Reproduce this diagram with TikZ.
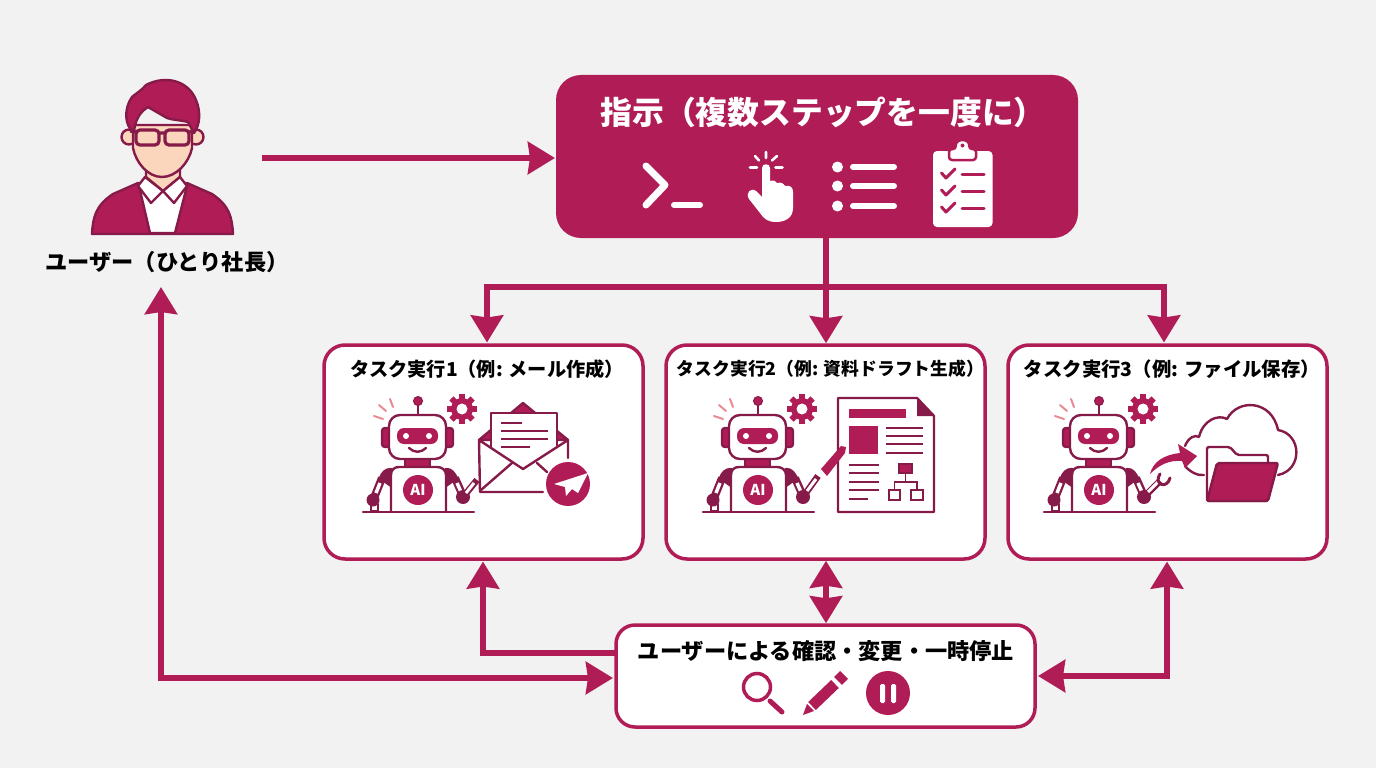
\documentclass[tikz,border=0pt]{standalone}
\usepackage{fontspec}
\setmainfont{Noto Sans CJK JP}
\usepackage{tikz}
\usetikzlibrary{arrows.meta,calc}

\definecolor{crimson}{HTML}{B01C55}
\definecolor{wine}{HTML}{861A48}
\definecolor{salmon}{HTML}{E98A94}
\definecolor{paper}{HTML}{F2F2F2}
\definecolor{skin}{HTML}{FBD5BC}

\tikzset{
    flow/.style={draw=crimson, line width=6.5pt, -{Stealth[width=32pt,length=27pt,inset=2pt]}},
    flowboth/.style={draw=crimson, line width=6.5pt, {Stealth[width=32pt,length=27pt,inset=2pt]}-{Stealth[width=32pt,length=27pt,inset=2pt]}},
    taskbox/.style={draw=crimson, line width=3.5pt, fill=white, rounded corners=21pt, minimum width=319pt, minimum height=214pt},
    ink/.style={draw=wine, line width=2.4pt, line cap=round, line join=round},
    inkfill/.style={ink, fill=crimson},
    whiteink/.style={draw=white, line width=6pt, line cap=round, line join=round},
    heading/.style={text=black, inner sep=0pt},
}

% robot with gear, drawn around the AI badge
\newcommand{\robot}[2]{
    \begin{scope}[shift={(#1,#2)}]
        % sparks
        \draw[salmon, line width=2pt, line cap=round] (-44,-74) -- (-35,-71);
        \draw[salmon, line width=2pt, line cap=round] (-39,-85) -- (-32,-79);
        \draw[salmon, line width=2pt, line cap=round] (-28,-91) -- (-25,-83);
        % gear
        \foreach \a in {0,45,...,315} {
            \fill[crimson, rotate around={\a:(44,-81)}] (41,-96) rectangle (47,-90);
        }
        \fill[crimson] (44,-81) circle (11);
        \fill[white] (44,-81) circle (5.5);
        % antenna
        \draw[ink] (0,-88) -- (0,-75);
        \fill[crimson, draw=wine, line width=1pt] (0,-89) circle (4.5);
        % ears
        \draw[inkfill, rounded corners=3pt] (-36,-62) rectangle (-27,-43);
        \draw[inkfill, rounded corners=3pt] (26,-62) rectangle (35,-43);
        % neck
        \draw[inkfill] (-13,-31) rectangle (12,-23);
        % head
        \draw[ink, fill=white, rounded corners=11pt] (-29,-75) rectangle (28,-31);
        \fill[crimson, rounded corners=7pt] (-21,-62) rectangle (20,-46);
        \fill[white] (-12,-54) circle (3);
        \fill[white] (11,-54) circle (3);
        \draw[ink] (-9,-42) .. controls (-4,-37) and (3,-37) .. (8,-42);
        % shoulders
        \draw[ink, fill=wine] (-27,-21) .. controls (-33,-21) and (-36,-17) .. (-38,-12) -- (-27,-4) -- cycle;
        \draw[ink, fill=wine] (28,-21) .. controls (34,-21) and (36,-17) .. (39,-12) -- (28,-4) -- cycle;
        % arms
        \draw[wine, line width=8pt] (-36,-12) -- (-44,8);
        \draw[white, line width=3.5pt] (-38,-7) -- (-42,3);
        \draw[wine, line width=8pt] (37,-12) -- (45,6);
        \draw[white, line width=3.5pt] (39,-7) -- (43,2);
        \fill[wine] (-45,10) circle (6.5);
        \draw[ink] (-47,14) rectangle (-40,21);
        % body
        \draw[ink, fill=white] (-27,21) -- (-27,-15) .. controls (-27,-20) and (-24,-23) .. (-19,-23) -- (19,-23) .. controls (24,-23) and (28,-20) .. (28,-15) -- (28,21);
        \fill[crimson] (0,0) circle (15);
        \node[font=\bfseries\fontsize{15}{15}\selectfont, text=white, inner sep=0pt] at (0,0) {AI};
        % base
        \draw[ink] (-55,22) -- (56,22);
        % hand
        \fill[wine] (45,7) circle (7);
    \end{scope}
}

\begin{document}
\begin{tikzpicture}[x=1pt, y=-1pt]
    \useasboundingbox[fill=paper] (0,0) rectangle (1376,768);

    % Boxes
    \node[fill=crimson, rounded corners=25pt, minimum width=522pt, minimum height=163pt] (instr) at (817,156.5) {};
    \node[taskbox] (task1) at (483.5,452) {};
    \node[taskbox] (task2) at (825.5,452) {};
    \node[taskbox] (task3) at (1167.5,452) {};
    \node[taskbox, minimum width=419pt, minimum height=102pt, rounded corners=19pt] (check) at (825.5,676) {};

    % Labels
    \node[font=\bfseries\fontsize{31.8}{32}\selectfont, text=white, inner sep=0pt] (instrlabel) at (823,112) {指示（複数ステップを一度に）};
    \node[heading, font=\bfseries\fontsize{19.2}{20}\selectfont] (label1) at (487,369) {タスク実行1（例: メール作成）};
    \node[heading, font=\bfseries\fontsize{17.8}{20}\selectfont] (label2) at (830.5,369) {タスク実行2（例: 資料ドラフト生成）};
    \node[heading, font=\bfseries\fontsize{19.4}{20}\selectfont] (label3) at (1172,369) {タスク実行3（例: ファイル保存）};
    \node[heading, font=\bfseries\fontsize{22.2}{23}\selectfont] (checklabel) at (826,651) {ユーザーによる確認・変更・一時停止};
    \node[heading, font=\bfseries\fontsize{22.2}{23}\selectfont] (userlabel) at (167,262) {ユーザー（ひとり社長）};

    % Connector ends
    \coordinate (userout) at (262,158);
    \coordinate (instrin) at (555,158);
    \coordinate (split) at (826,287);
    \coordinate (task1in) at (487,342.5);
    \coordinate (task3in) at (1164,342.5);
    \coordinate (task1back) at (483,561.5);
    \coordinate (task3back) at (1167,561.5);
    \coordinate (userin) at (161,287);
    \coordinate (checkuser) at (613,678);
    \coordinate (checkleft) at (615,653);
    \coordinate (checkright) at (1038,676);

    % Flow down
    \draw[flow] (userout) -- (instrin);
    \draw[flow] (instr.south -| split) -- (task2.north -| split);
    \draw[flow] (split) -| (task1in);
    \draw[flow] (split) -| (task3in);

    % Flow back
    \draw[flow] (checkleft) -| (task1back);
    \draw[flowboth] (task2.south -| split) -- (check.north -| split);
    \draw[flowboth] (checkright) -| (task3back);
    \draw[flowboth] (userin) |- (checkuser);

    % Person
    \draw[ink, fill=crimson] (92,234) .. controls (93,218) and (95,206) .. (113,194) -- (138,183) -- (187,183) -- (212,194) .. controls (230,206) and (232,218) .. (233,234) -- cycle;
    \draw[ink, fill=white] (139,186) -- (150,233) -- (175,233) -- (187,186) -- cycle;
    \draw[ink, fill=skin] (146,165) -- (146,177) -- (163,191) -- (180,177) -- (180,165) -- cycle;
    \draw[ink, fill=white] (145,177) -- (138,186) -- (151,203) -- (163,191) -- cycle;
    \draw[ink, fill=white] (180,177) -- (187,186) -- (174,203) -- (163,191) -- cycle;
    \draw[ink, fill=skin] (129,137) circle (7.5);
    \draw[ink, fill=skin] (196,137) circle (7.5);
    \draw[ink, fill=skin] (133,125) -- (133,148) .. controls (136,163) and (148,177) .. (162,177) .. controls (176,177) and (189,163) .. (192,148) -- (192,125) -- cycle;
    \draw[ink, fill=crimson] (134,132) .. controls (124,126) and (124,108) .. (132,97) .. controls (138,92) and (142,90) .. (146,85) .. controls (165,75) and (188,80) .. (196,100) .. controls (201,112) and (200,125) .. (194,133) -- (188,122) .. controls (180,120) and (172,120) .. (167,118) -- (148,107) .. controls (140,112) and (135,120) .. (134,132) -- cycle;
    \draw[draw=wine, line width=3.2pt, rounded corners=4pt] (136,130) rectangle (159,145);
    \draw[draw=wine, line width=3.2pt, rounded corners=4pt] (165,130) rectangle (189,145);
    \draw[draw=wine, line width=3.2pt] (130,131) -- (136,132) (159,133) -- (165,133) (189,132) -- (195,131);

    % Prompt icon
    \draw[whiteink, line width=7pt] (646,166) -- (665,185) -- (646,205);
    \draw[whiteink] (674,205) -- (700,205);

    % Hand icon
    \draw[white, line width=2.6pt, line cap=round] (766,152) -- (766,158) (755,156) -- (759,160.5) (777,156) -- (772,160.5) (750,167.5) -- (757,167.5) (775.5,167.5) -- (782.5,167.5);
    \fill[white] (762,168) .. controls (762,163) and (770,163) .. (770,168) -- (770,181) .. controls (774,180) and (776,181) .. (777,183) .. controls (781,182) and (783,183) .. (785,186) .. controls (790,185) and (793,187) .. (793,192) -- (793,208) .. controls (793,218) and (785,222) .. (776,222) .. controls (768,222) and (764,219) .. (760,213) -- (749,199) .. controls (745,193) and (751,187) .. (756,191) -- (762,197) -- cycle;

    % List icon
    \foreach \y in {167,186,206} {
        \fill[white] (837.5,\y) circle (5.5);
        \draw[whiteink] (853,\y) -- (894,\y);
    }

    % Clipboard icon
    \fill[white, rounded corners=4pt] (933,151) rectangle (992.5,227);
    \draw[crimson, line width=2.5pt, fill=white, rounded corners=3pt] (949,149) -- (949,160) -- (976,160) -- (976,149) -- (969,149) .. controls (970,138) and (955,138) .. (956,149) -- cycle;
    \fill[crimson] (962.5,145.5) circle (2);
    \foreach \y in {0,17,34} {
        \draw[crimson, line width=3pt, line cap=round, line join=round] (941.5,173+\y) -- (946,178+\y) -- (955,169+\y);
        \draw[crimson, line width=3pt, line cap=round] (962,174+\y) -- (984,174+\y);
    }

    % Task 1: robot and envelope
    \robot{418}{490}
    \draw[ink, fill=crimson] (479,440) -- (523,403) -- (568,440) -- cycle;
    \draw[ink, fill=white] (491,413) rectangle (557,470);
    \draw[wine, line width=2.2pt] (501,423) -- (522,423) (501,431) -- (548,431) (501,439) -- (548,439) (501,447) -- (530,447);
    \fill[white] (479,440) -- (523,469) -- (568,440) -- (568,492) -- (479,492) -- cycle;
    \draw[ink] (568,458) -- (568,440) -- (523,469) -- (479,440) -- (480,492) -- (543,492);
    \draw[ink] (481,490) -- (512,463) (537,463) -- (547,472);
    \draw[wine, line width=6.5pt] (463,497) -- (477,480);
    \draw[white, line width=3pt] (466,493) -- (474,483);
    \fill[crimson] (568,484) circle (22);
    \fill[white] (588,473) -- (554,484) -- (565,487) -- (566,496) -- (572,489) -- (578,493) -- cycle;

    % Task 2: robot and document
    \robot{758}{490}
    \draw[ink, fill=white] (838,398) -- (917,398) -- (934,416) -- (934,512) -- (838,512) -- cycle;
    \fill[wine] (917,398) -- (934,416) -- (917,416) -- cycle;
    \fill[crimson] (849,409) rectangle (906,418);
    \fill[crimson] (849,426) rectangle (878,454);
    \foreach \y in {428,436,444,453} {
        \draw[wine, line width=2.4pt] (886,\y) -- (923,\y);
    }
    \foreach \y in {465,473,482,490} {
        \draw[wine, line width=2.4pt] (849,\y) -- (879,\y);
    }
    \draw[wine, line width=2.4pt] (849,499) -- (868,499);
    \draw[draw=wine, line width=1.6pt, fill=crimson] (899,464) rectangle (912,473);
    \draw[wine, line width=1.6pt] (905.5,473) -- (905.5,482) (894.5,490) -- (894.5,482) -- (917,482) -- (917,490);
    \draw[wine, line width=2pt] (889,490) rectangle (900,500);
    \draw[wine, line width=2pt] (911,490) rectangle (923,500);
    % pen
    \draw[wine, line width=6.5pt] (803,497) -- (818,476);
    \draw[white, line width=3pt] (807,491) -- (816,479);
    \fill[crimson] (821,469) -- (841,446) -- (846,447) -- (845,453) -- (827,476) -- cycle;
    \draw[white, line width=1.5pt] (820,472) -- (826,477);

    % Task 3: robot, folder and cloud
    \robot{1099}{490}
    \draw[ink] (1185,446) .. controls (1188,438) and (1195,434) .. (1199,437) .. controls (1203,420) and (1218,414) .. (1227,419) .. controls (1238,398) and (1272,400) .. (1278,430) .. controls (1302,434) and (1303,470) .. (1278,475);
    \draw[ink] (1185,466) .. controls (1190,472) and (1198,476) .. (1204,475);
    \draw[ink, fill=white, rounded corners=2pt] (1207,501) -- (1207,447) -- (1230,447) -- (1237,455) -- (1268,455) -- (1268,501) -- cycle;
    \draw[ink, fill=crimson, rounded corners=2pt] (1217,463) -- (1278,463) -- (1268,501) -- (1207,501) -- cycle;
    % curved arrow
    \fill[crimson] (1150,474) .. controls (1153,462) and (1163,455) .. (1180,453) -- (1178,444) -- (1197,456) -- (1185,468) -- (1182,461) .. controls (1170,460) and (1160,464) .. (1150,474) -- cycle;
    % wrench
    \draw[wine, line width=6.5pt] (1144,497) -- (1160,481);
    \draw[white, line width=3pt] (1148,492) -- (1158,482);
    \draw[wine, line width=3pt, line cap=round] (1160,474) .. controls (1153,484) and (1167,490) .. (1170,478);

    % Check icons
    \draw[crimson, line width=3.5pt] (757,687) circle (13.5);
    \draw[crimson, line width=5pt, line cap=round] (770,701) -- (782,712);
    \fill[crimson] (803,715) -- (807,704) -- (814,711) -- cycle;
    \draw[crimson, line width=11pt] (812,706) -- (835,684);
    \draw[crimson, line width=11pt] (838,681) -- (844,675);
    \fill[crimson] (888,693) circle (22);
    \fill[white, rounded corners=1.5pt] (880,684) rectangle (885,703);
    \fill[white, rounded corners=1.5pt] (891,684) rectangle (896,703);
\end{tikzpicture}
\end{document}
